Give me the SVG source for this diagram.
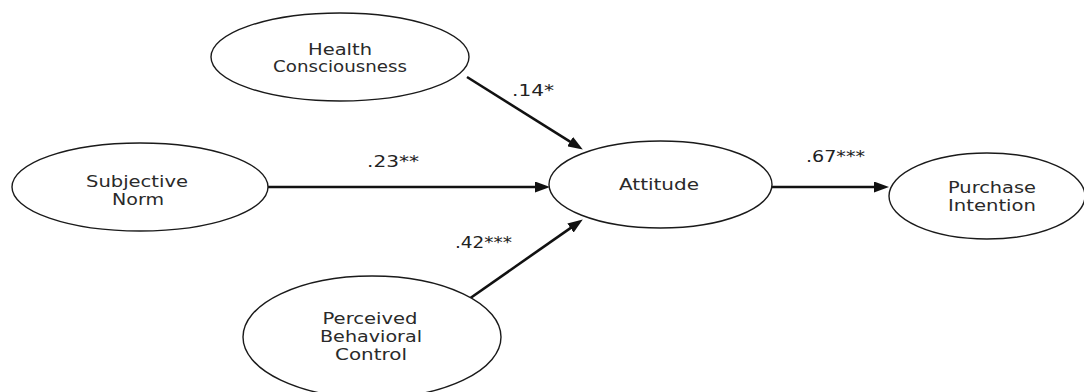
<svg xmlns="http://www.w3.org/2000/svg" width="1084" height="392" viewBox="0 0 1084 392">
<style>
.node ellipse{fill:#fff;stroke:#1a1a1a;stroke-width:1.4}
.node text{font-family:"DejaVu Sans",Verdana,sans-serif;font-size:15.5px;fill:#2a2a2a;text-anchor:middle}
.edge{stroke:#111;stroke-width:2.6;fill:none;marker-end:url(#ah)}
.lbl{font-family:"DejaVu Sans",Verdana,sans-serif;font-size:16px;fill:#222}
</style>
<defs>
<marker id="ah" markerUnits="userSpaceOnUse" markerWidth="15" markerHeight="11" refX="6" refY="5.5" orient="auto">
<path d="M0,0 L15,5.5 L0,11 z" fill="#111"/>
</marker>
</defs>
<rect width="1084" height="392" fill="#fff"/>
<g id="connectors">
<line class="edge" x1="467" y1="77" x2="575.2" y2="144.8"/>
<line class="edge" x1="268" y1="187" x2="541" y2="187"/>
<line class="edge" x1="469" y1="299" x2="575.4" y2="224.6"/>
<line class="edge" x1="772" y1="187" x2="880" y2="187"/>
<text class="lbl" x="512" y="96" textLength="42" lengthAdjust="spacingAndGlyphs">.14*</text>
<text class="lbl" x="367" y="167" textLength="52" lengthAdjust="spacingAndGlyphs">.23**</text>
<text class="lbl" x="455" y="248" textLength="57" lengthAdjust="spacingAndGlyphs">.42***</text>
<text class="lbl" x="806" y="162" textLength="59" lengthAdjust="spacingAndGlyphs">.67***</text>
</g>
<g id="health" class="node">
<ellipse cx="340" cy="57" rx="129" ry="44"/>
<text x="340" y="55" textLength="64" lengthAdjust="spacingAndGlyphs">Health</text>
<text x="340" y="72" textLength="134" lengthAdjust="spacingAndGlyphs">Consciousness</text>
</g>
<g id="subjective" class="node">
<ellipse cx="140" cy="187" rx="128" ry="44"/>
<text x="137" y="187" textLength="102" lengthAdjust="spacingAndGlyphs">Subjective</text>
<text x="138" y="205" textLength="52" lengthAdjust="spacingAndGlyphs">Norm</text>
</g>
<g id="attitude" class="node">
<ellipse cx="660.5" cy="184.5" rx="111.5" ry="43.5"/>
<text x="659" y="190" textLength="80" lengthAdjust="spacingAndGlyphs">Attitude</text>
</g>
<g id="purchase" class="node">
<ellipse cx="987" cy="196" rx="98" ry="43"/>
<text x="992" y="193" textLength="88" lengthAdjust="spacingAndGlyphs">Purchase</text>
<text x="992" y="211" textLength="88" lengthAdjust="spacingAndGlyphs">Intention</text>
</g>
<g id="pbc" class="node">
<ellipse cx="372" cy="337" rx="129" ry="61"/>
<text x="370" y="324" textLength="95" lengthAdjust="spacingAndGlyphs">Perceived</text>
<text x="371" y="342" textLength="102" lengthAdjust="spacingAndGlyphs">Behavioral</text>
<text x="371" y="360" textLength="72" lengthAdjust="spacingAndGlyphs">Control</text>
</g>
</svg>
